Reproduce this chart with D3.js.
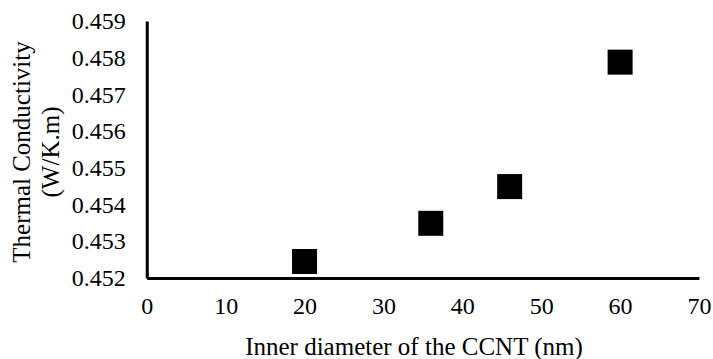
<!DOCTYPE html>
<html>
<head>
<meta charset="utf-8">
<script src="https://cdn.jsdelivr.net/npm/d3@7"></script>
<style>
  body { margin: 0; background: #fff; }
</style>
</head>
<body>
<div id="chart"></div>
<script>
var diameters = [20, 36, 46, 60];
var conductivity = [0.45245, 0.45349, 0.45449, 0.45788];
var xTicks = [0, 10, 20, 30, 40, 50, 60, 70];
var yTicks = [0.452, 0.453, 0.454, 0.455, 0.456, 0.457, 0.458, 0.459];

var width = 713, height = 359;
var margin = { left: 146.75, right: 14, top: 21, bottom: 81 };
var serif = '"Liberation Serif", "Times New Roman", serif';

var svg = d3.select('#chart')
  .append('svg')
  .attr('width', width)
  .attr('height', height)
  .style('font-family', serif);

var x = d3.scaleLinear()
  .domain([0, 70])
  .range([margin.left, width - margin.right]);

var y = d3.scaleLinear()
  .domain([0.452, 0.459])
  .range([height - margin.bottom, margin.top]);

// x axis
var xAxis = svg.append('g')
  .attr('transform', 'translate(0,' + y(0.452) + ')')
  .call(d3.axisBottom(x).tickValues(xTicks).tickSize(0).tickPadding(19).tickFormat(d3.format('d')));
xAxis.select('.domain').attr('stroke', '#000').attr('stroke-width', 3);
xAxis.selectAll('text')
  .style('font-family', serif)
  .style('font-size', '24px')
  .attr('fill', '#000');

// y axis
var yAxis = svg.append('g')
  .attr('transform', 'translate(' + x(0) + ',0)')
  .call(d3.axisLeft(y).tickValues(yTicks).tickSize(0).tickPadding(21).tickFormat(d3.format('.3f')));
yAxis.select('.domain').attr('stroke', '#000').attr('stroke-width', 3);
yAxis.selectAll('text')
  .style('font-family', serif)
  .style('font-size', '24px')
  .attr('fill', '#000');

// markers
var size = 25;
svg.append('g')
  .selectAll('rect')
  .data(diameters)
  .enter()
  .append('rect')
  .attr('x', function(d) { return x(d) - size / 2; })
  .attr('y', function(d, i) { return y(conductivity[i]) - size / 2; })
  .attr('width', size)
  .attr('height', size)
  .attr('fill', '#000');

// axis titles
svg.append('text')
  .attr('x', 414)
  .attr('y', 355)
  .attr('text-anchor', 'middle')
  .attr('fill', '#000')
  .style('font-family', serif)
  .style('font-size', '25px')
  .text('Inner diameter of the CCNT (nm)');

var yTitle = svg.append('text')
  .attr('transform', 'translate(0,152) rotate(-90)')
  .attr('text-anchor', 'middle')
  .attr('fill', '#000')
  .style('font-family', serif)
  .style('font-size', '25px');
yTitle.append('tspan').attr('x', 0).attr('y', 30).text('Thermal Conductivity');
yTitle.append('tspan').attr('x', 0).attr('y', 59).text('(W/K.m)');
</script>
</body>
</html>
